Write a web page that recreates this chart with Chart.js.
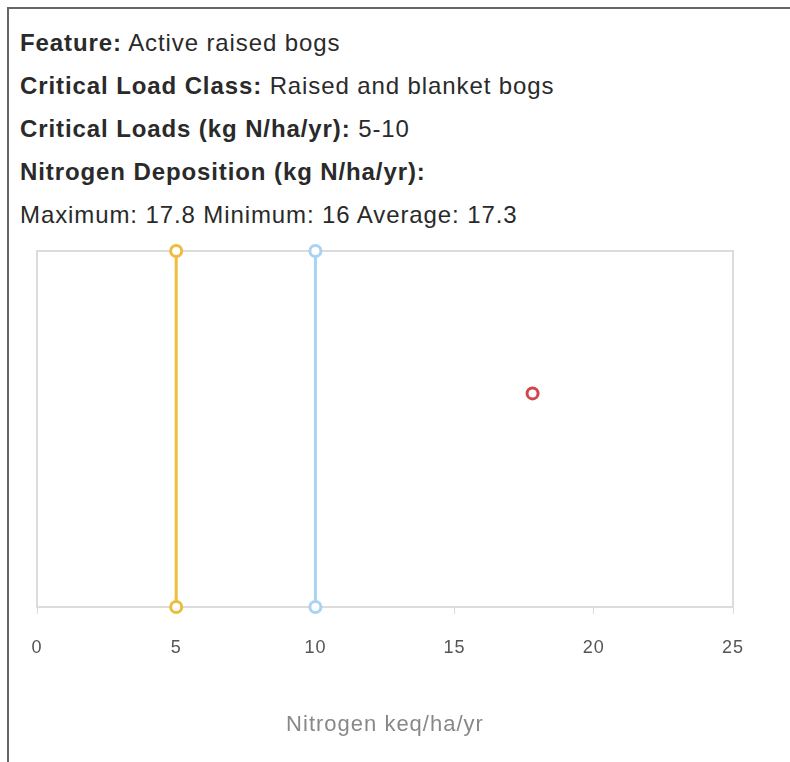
<!DOCTYPE html>
<html>
<head>
<meta charset="utf-8">
<script src="https://cdn.jsdelivr.net/npm/chart.js@4/dist/chart.umd.min.js"></script>
<style>
  html, body { margin: 0; padding: 0; background: #fff; }
  body { width: 790px; height: 762px; position: relative; overflow: hidden; font-family: "Liberation Sans", Arial, sans-serif; }
  #box { position: absolute; left: 7px; top: 7px; width: 900px; height: 900px; border-left: 2px solid #666; border-top: 2px solid #666; }
  #info { position: absolute; left: 20px; top: 21px; font-size: 24px; letter-spacing: 0.9px; color: #2a2a2a; }
  #info div { height: 43px; line-height: 43px; white-space: nowrap; }
  #info b { font-weight: bold; }
  #chartWrap { position: absolute; left: 0; top: 0; width: 790px; height: 762px; }
</style>
</head>
<body>
<div id="box"></div>
<div id="info">
  <div><b>Feature:</b> Active raised bogs</div>
  <div><b>Critical Load Class:</b> Raised and blanket bogs</div>
  <div><b>Critical Loads (kg N/ha/yr):</b> 5-10</div>
  <div><b>Nitrogen Deposition (kg N/ha/yr):</b></div>
  <div>Maximum: 17.8 Minimum: 16 Average: 17.3</div>
</div>
<div id="chartWrap"><canvas id="nChart"></canvas></div>
<script>
// critical load range (kg N/ha/yr)
var criticalLow = [{ x: 5, y: 0 }, { x: 5, y: 1 }];
var criticalHigh = [{ x: 10, y: 0 }, { x: 10, y: 1 }];
// deposition marker
var deposition = [{ x: 17.8, y: 0.6 }];
var xTicks = [0, 5, 10, 15, 20, 25];

// grey frame round the plot area
var areaBorder = {
  id: "areaBorder",
  beforeDatasetsDraw: function (chart) {
    var a = chart.chartArea;
    var ctx = chart.ctx;
    ctx.save();
    ctx.strokeStyle = "#dcdcdc";
    ctx.lineWidth = 2;
    ctx.strokeRect(a.left, a.top, a.right - a.left, a.bottom - a.top);
    ctx.restore();
  },
};

// the original text is a bit wider than Liberation Sans
var textSpacing = {
  id: "textSpacing",
  beforeUpdate: function (chart) {
    chart.ctx.letterSpacing = "1px";
  },
  beforeDraw: function (chart) {
    chart.ctx.letterSpacing = "1px";
  },
};

var ctx = document.getElementById("nChart").getContext("2d");
var nChart = new Chart(ctx, {
  type: "scatter",
  data: {
    datasets: [
      {
        data: criticalLow,
        showLine: true,
        borderColor: "#edbd3e",
        backgroundColor: "#ffffff",
        borderWidth: 3,
        pointRadius: 5.5,
        pointBorderWidth: 3,
        pointBorderColor: "#edbd3e",
        pointBackgroundColor: "#ffffff",
      },
      {
        data: criticalHigh,
        showLine: true,
        borderColor: "#a9d3f3",
        backgroundColor: "#ffffff",
        borderWidth: 3,
        pointRadius: 5.5,
        pointBorderWidth: 3,
        pointBorderColor: "#a9d3f3",
        pointBackgroundColor: "#ffffff",
      },
      {
        data: deposition,
        showLine: false,
        pointRadius: 5.5,
        pointBorderWidth: 3,
        pointBorderColor: "#d0444a",
        pointBackgroundColor: "#ffffff",
      },
    ],
  },
  options: {
    responsive: true,
    maintainAspectRatio: false,
    animation: false,
    clip: false,
    layout: {
      autoPadding: false,
      padding: { left: 37, right: 57, top: 251, bottom: 20 },
    },
    plugins: {
      legend: { display: false },
      tooltip: { enabled: false },
    },
    scales: {
      x: {
        type: "linear",
        min: 0,
        max: 25,
        afterBuildTicks: function (axis) {
          axis.ticks = xTicks.map(function (v) { return { value: v }; });
        },
        border: { display: false },
        grid: {
          drawOnChartArea: false,
          tickLength: 7,
          tickColor: "#dcdcdc",
          tickWidth: 1,
        },
        ticks: {
          color: "#555",
          padding: 23,
          maxRotation: 0,
          font: { family: "'Liberation Sans', Arial, sans-serif", size: 18 },
        },
        title: {
          display: true,
          text: "Nitrogen keq/ha/yr",
          color: "#888",
          padding: { top: 30, bottom: 4 },
          font: { family: "'Liberation Sans', Arial, sans-serif", size: 22 },
        },
      },
      y: {
        display: false,
        min: 0,
        max: 1,
      },
    },
  },
  plugins: [areaBorder, textSpacing],
});
</script>
</body>
</html>
